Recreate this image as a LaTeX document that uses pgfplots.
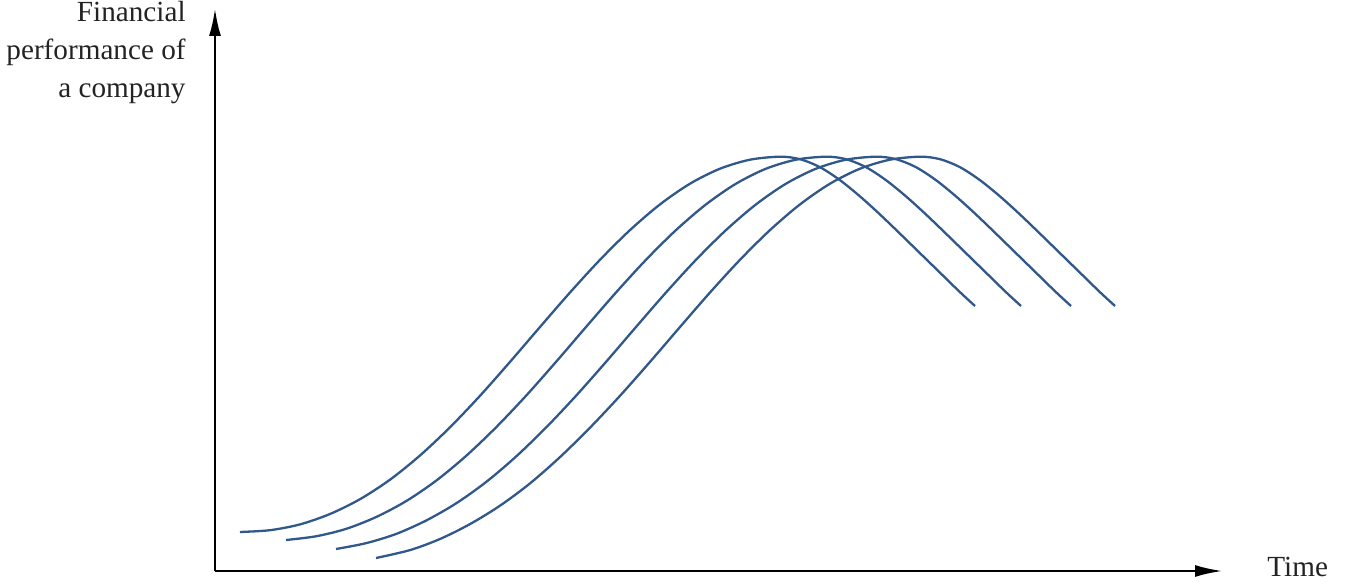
\documentclass[border=0pt]{standalone}
\usepackage{pgfplots}
\pgfplotsset{compat=1.18}
\usepackage{fontspec}
\setmainfont{Liberation Serif}
\usetikzlibrary{arrows.meta}
\definecolor{curve}{RGB}{48,88,138}
\definecolor{txt}{RGB}{35,35,35}
\begin{document}
\begin{tikzpicture}
\begin{axis}[
  x=0.5pt, y=0.5pt,
  xmin=215, xmax=1223, ymin=11, ymax=574,
  enlargelimits=false,
  axis lines=left,
  axis line style={line width=1.4pt, black, -{Latex[length=14pt,width=6pt]}},
  ticks=none,
  clip=false,
]
\path (axis cs:0,0) rectangle (axis cs:1347,582);
\addplot[curve, line width=1.15pt, smooth] coordinates {
(240,50) (270,51.8) (300,57.6) (330,68) (360,82.8) (390,102.3) (420,126.5) (450,154.7) (480,186.2) (510,220.1) (540,255) (570,289.5) (600,322.2) (630,351.9) (660,377.6) (690,398.3) (720,413.3) (750,422.3) (780,425.3) (800,422.8) (820,414.8) (840,401.8) (860,385.6) (880,367.5) (900,348.3) (920,328.8) (940,309.3) (960,289.8) (975,276)
};
\addplot[curve, line width=1.15pt, smooth] coordinates {
(286,42) (316,45.7) (346,53.1) (376,64.9) (406,80.8) (436,101.2) (466,126) (496,154.6) (526,186.2) (556,220.1) (586,255) (616,289.5) (646,322.2) (676,351.9) (706,377.6) (736,398.3) (766,413.3) (796,422.3) (826,425.3) (846,422.8) (866,414.8) (886,401.8) (906,385.6) (926,367.5) (946,348.3) (966,328.8) (986,309.3) (1006,289.8) (1021,276)
};
\addplot[curve, line width=1.15pt, smooth] coordinates {
(336,33) (366,38.8) (396,48) (426,61.4) (456,78.55) (486,99.9) (516,125.4) (546,154.4) (576,186.2) (606,220.1) (636,255) (666,289.5) (696,322.2) (726,351.9) (756,377.6) (786,398.3) (816,413.3) (846,422.3) (876,425.3) (896,422.8) (916,414.8) (936,401.8) (956,385.6) (976,367.5) (996,348.3) (1016,328.8) (1036,309.3) (1056,289.8) (1071,276)
};
\addplot[curve, line width=1.15pt, smooth] coordinates {
(376,24) (410,31.9) (440,43) (470,57.9) (500,76.3) (530,98.6) (560,124.9) (590,154.3) (620,186.2) (650,220.1) (680,255) (710,289.5) (740,322.2) (770,351.9) (800,377.6) (830,398.3) (860,413.3) (890,422.3) (920,425.3) (940,422.8) (960,414.8) (980,401.8) (1000,385.6) (1020,367.5) (1040,348.3) (1060,328.8) (1080,309.3) (1100,289.8) (1115,276)
};
\node[anchor=north east, align=right, inner sep=0pt, text=txt,
      font=\fontsize{14.6}{19.0}\selectfont] at (axis cs:186,581)
  {Financial\\performance of\\a company};
\node[anchor=base west, inner sep=0pt, text=txt,
      font=\fontsize{14.6}{19.0}\selectfont] at (axis cs:1267,5) {Time};
\end{axis}
\end{tikzpicture}
\end{document}
